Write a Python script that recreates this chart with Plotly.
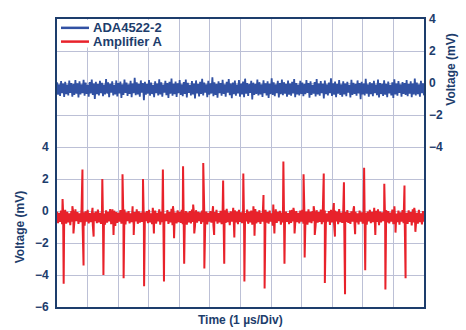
import numpy as np
import plotly.graph_objects as go

# ---- data: voltages in hundredths of a mV, time base 1 µs/div over 12 divisions ----
ada_centi_mv = [
    5, -73, -8, -81, 12, -64, -3, -87, 8, -70, -10, -77, 15, -62, 0, -85, -6, -74, 18, -67,
    -2, -90, 10, -72, -9, -63, 20, -79, 3, -68, -11, -86, 6, -65, 22, -75, -4, -99, 7, -69,
    -7, -78, 14, -64, 1, -83, -10, -72, 25, -66, 4, -89, -5, -61, 10, -77, -12, -71, 16, -84,
    -1, -65, 9, -94, -8, -74, 21, -62, 2, -81, -9, -68, 13, -88, -3, -64, 32, -76, 5, -72,
    -6, -85, 16, -60, 0, -107, 8, -73, -7, -66, 19, -80, 3, -69, -11, -89, 11, -63, -4, -78,
    23, -72, 4, -86, -10, -61, 14, -76, -1, -93, 7, -67, 28, -79, -5, -70, 9, -87, -2, -64,
    18, -75, -8, -82, 6, -68, 22, -91, 1, -62, -12, -78, 12, -71, -3, -97, 16, -65, -7, -84,
    8, -69, 26, -77, 2, -60, -9, -88, 13, -73, -2, -66, 35, -82, 4, -74, -6, -92, 10, -63,
    0, -80, 20, -68, -8, -86, 7, -61, 24, -76, -4, -95, 3, -70, 15, -79, -10, -65, 19, -85,
    -3, -72, 9, -89, 27, -67, -1, -81, -7, -62, 14, -103, 2, -75, -6, -68, 21, -78, 5, -71,
    -9, -87, 17, -64, -2, -77, 11, -93, -5, -69, 29, -74, 4, -82, -8, -63, 13, -90, -1, -70,
    22, -76, 5, -66, -6, -85, 16, -73, -3, -80, 8, -65, 25, -88, 0, -71, -10, -78, 14, -68,
    3, -83, -7, -70, 19, -62, -1, -92, 10, -75, -11, -67, 6, -84, 24, -72, -4, -79, 12, -64,
    -5, -96, 15, -69, -9, -77, 2, -63, 30, -81, -2, -73, 9, -88, -6, -66, 18, -75, -8, -85,
    11, -71, -3, -82, 7, -60, -12, -90, 20, -74, 1, -68, -7, -79, 16, -65, -1, -101, 8, -72,
    -4, -78, 26, -67, -8, -86, 5, -70, -2, -83, 13, -64, -10, -76, 21, -91, 0, -69, -5, -81,
    17, -73, -6, -88, 9, -65, -11, -77, 4, -94, 23, -71, -3, -80, 12, -62, -9, -85, 6, -68,
    -1, -75, 19, -83, -7, -67, 10, -89, -4, -72, 28, -78, 2, -70, -9, -86, 14, -64, -2, -77,
]

amp_a_floor_centi_mv = [
    -4, -76, -12, -68, 3, -82, -9, -65, 8, -79, -6, -71, -15, -88, 0, -67, -11, -77, 10, -63,
    -7, -81, -14, -69, 5, -74, -8, -91, -2, -66, 7, -78, -13, -70, 1, -85, -9, -64, -3, -76,
    9, -72, -11, -80, -1, -67, -16, -86, 4, -73, -5, -65, 12, -82, -10, -69, 2, -94, -7, -75,
    -12, -66, 6, -79, -4, -71, 9, -84, -9, -64, 0, -77, -15, -70, 3, -87, -6, -65, 11, -80,
    -2, -73, -10, -68, 5, -90, -8, -63, -1, -76, 8, -71, -14, -83, -4, -67, 2, -79, -11, -65,
    10, -85, -5, -70, 1, -75, -16, -64, 6, -81, -7, -72, 13, -89, -3, -66, -10, -78, 4, -69,
    -6, -74, 7, -82, -12, -65, 0, -86, -8, -71, -1, -77, 9, -68, -14, -92, 5, -73, -5, -63,
    -9, -80, 3, -69, 11, -76, -4, -84, -11, -67, 0, -73, 6, -87, -7, -65, 8, -79, -13, -71,
    1, -82, -6, -64, 5, -75, 13, -70, -10, -88, -2, -66, -15, -78, 4, -72, -4, -83, 7, -68,
    -8, -76, 0, -90, -12, -65, 9, -80, -3, -71, 2, -85, -9, -63, 12, -77, -5, -69, 5, -81,
    -11, -67, -1, -84, 7, -73, -7, -79, 3, -66, -14, -91, -2, -70, 10, -75, -6, -64, 1, -86,
    -10, -72, 6, -78, -4, -68, -13, -83, 4, -74, 8, -65, -8, -81, -1, -70, -12, -77, 2, -66,
    7, -79, -9, -67, -3, -85, 11, -71, -6, -76, 0, -64, -11, -89, 5, -73, -7, -68, 9, -82,
    -5, -70, 3, -80, -14, -66, -1, -87, 8, -72, -9, -78, 2, -65, -4, -83, 12, -69, -10, -75,
    0, -93, -7, -68, 6, -74, -12, -81, -2, -67, 10, -77, -5, -71, -15, -84, 3, -66, -8, -79,
    4, -73, -11, -85, -3, -65, 8, -76, -6, -70, -13, -82, 1, -68, 11, -88, -4, -72, -9, -64,
    -7, -80, 5, -71, -1, -78, -10, -66, 9, -83, -5, -73, -16, -69, 2, -86, -8, -67, 6, -76,
    -3, -74, -12, -81, 4, -68, -6, -90, 10, -72, -2, -65, -11, -79, 7, -70, -14, -84, 0, -67,
]

# chopping glitches of Amplifier A (µs, mV)
glitch_t_us = [0.20, 0.85, 1.50, 2.16, 2.83, 3.48, 4.14, 4.80, 5.45,
               6.11, 6.77, 7.42, 8.08, 8.74, 9.40, 10.06, 10.72, 11.38]
glitch_pos_mv = [0.75, 2.6, 2.0, 2.3, 2.0, 2.6, 2.8, 3.0, 1.9,
                 2.35, 1.0, 3.1, 2.3, 2.35, 1.8, 2.7, 1.7, 1.6]
glitch_neg_mv = [-4.55, -3.4, -4.0, -4.2, -4.7, -4.4, -3.3, -3.6, -3.3,
                 -4.4, -4.85, -3.3, -2.9, -4.5, -5.2, -3.7, -4.9, -4.2]

# smaller glitches halfway between the large ones
minor_t_us = [0.52, 1.18, 1.83, 2.49, 3.15, 3.81, 4.47, 5.12, 5.78,
              6.44, 7.09, 7.75, 8.41, 9.07, 9.73, 10.39, 11.05, 11.70]
minor_pos_mv = [0.3, 0.2, 0.1, 0.3, 0.2, 0.3, 0.4, 0.3, 0.2,
                0.3, 0.4, 0.2, 0.3, 0.5, 0.3, 0.2, 0.3, 0.2]
minor_neg_mv = [-1.4, -1.6, -1.5, -1.5, -1.4, -1.7, -1.4, -1.5, -1.65,
                -1.55, -1.4, -1.4, -1.5, -1.6, -1.45, -1.5, -1.35, -1.3]

series_names = ["ADA4522-2", "Amplifier A"]
left_ticks = [-6, -4, -2, 0, 2, 4]
right_ticks = [-4, -2, 0, 2, 4]

# ---- build traces ----
T_SPAN = 12.0
ada_mv = np.asarray(ada_centi_mv) / 100.0
floor_mv = np.asarray(amp_a_floor_centi_mv) / 100.0
ada_t = np.linspace(0, T_SPAN, len(ada_mv))
floor_t = np.linspace(0, T_SPAN, len(floor_mv))

HALF = 0.018  # half-width of a glitch edge, µs
amp_t = list(floor_t)
amp_v = list(floor_mv)
for t, p, n in zip(glitch_t_us, glitch_pos_mv, glitch_neg_mv):
    amp_t += [t - HALF, t + HALF]
    amp_v += [p, n]
for t, p, n in zip(minor_t_us, minor_pos_mv, minor_neg_mv):
    amp_t += [t - HALF, t + HALF]
    amp_v += [p, n]
order = np.argsort(amp_t, kind="stable")
amp_t = np.asarray(amp_t)[order]
amp_v = np.asarray(amp_v)[order]

NAVY = "#1d3d6c"
BLUE = "#3151a3"
RED = "#e8222b"
GRID = "#bcc0d6"
FONT = "Liberation Sans, Arial, sans-serif"
colors = [BLUE, RED]

W, H = 466, 330
ML, MR, MT, MB = 57, 42, 14, 23
PW, PH = W - ML - MR, H - MT - MB


def minus(v):
    return f"\u2212{abs(v)}" if v < 0 else f"{v}"


def px_x(px):
    return (px - ML) / PW


def px_y(py):
    return 1 - (py - MT) / PH


fig = go.Figure()
fig.add_trace(go.Scatter(x=ada_t, y=ada_mv, mode="lines", name=series_names[0],
                         line=dict(color=BLUE, width=1.8), yaxis="y2"))
fig.add_trace(go.Scatter(x=amp_t, y=amp_v, mode="lines", name=series_names[1],
                         line=dict(color=RED, width=2), yaxis="y"))

left_all = list(range(-6, 13, 2))
right_all = list(range(-14, 5, 2))
bold = dict(family=FONT, color=NAVY, size=12, weight="bold")

fig.update_layout(
    width=W, height=H,
    margin=dict(l=ML, r=MR, t=MT, b=MB),
    paper_bgcolor="white", plot_bgcolor="white",
    font=dict(family=FONT, color=NAVY, size=12),
    showlegend=False,
    xaxis=dict(range=[0, T_SPAN], tickvals=list(range(0, 13)),
               showticklabels=False, ticks="", showgrid=True,
               gridcolor=GRID, gridwidth=1, zeroline=False,
               showline=True, linecolor=NAVY, linewidth=2, mirror=True),
    yaxis=dict(range=[-6, 12], tickvals=left_all,
               ticktext=[minus(v) if v in left_ticks else "" for v in left_all],
               ticks="", showgrid=True, gridcolor=GRID, gridwidth=1,
               zeroline=False, showline=True, linecolor=NAVY, linewidth=2,
               mirror=True, ticklabelstandoff=4, tickfont=bold),
    yaxis2=dict(range=[-14, 4], tickvals=right_all,
                ticktext=[minus(v) if v in right_ticks else "" for v in right_all],
                overlaying="y", side="right", ticks="", showgrid=False,
                zeroline=False, showline=False, ticklabelstandoff=4,
                tickfont=bold),
)

# legend box in the top-left corner of the plot
fig.add_shape(type="rect", xref="paper", yref="paper", layer="above",
              x0=px_x(58), x1=px_x(163), y0=px_y(43), y1=px_y(15),
              fillcolor="white", line=dict(width=0))
for i, (name, col) in enumerate(zip(series_names, colors)):
    yy = px_y(23 + 14 * i)
    fig.add_shape(type="line", xref="paper", yref="paper", layer="above",
                  x0=px_x(61), x1=px_x(89), y0=yy, y1=yy,
                  line=dict(color=col, width=2.5))
    fig.add_annotation(text=name, xref="paper", yref="paper", x=px_x(91), y=yy,
                       xanchor="left", yanchor="middle", showarrow=False,
                       font=dict(family=FONT, color=NAVY, size=13, weight="bold"))

fig.add_annotation(text="Voltage (mV)", xref="paper", yref="y",
                   x=-0.1, y=-1, textangle=-90, showarrow=False,
                   font=bold, xanchor="center", yanchor="middle")
fig.add_annotation(text="Voltage (mV)", xref="paper", yref="y2",
                   x=1.075, y=0.8, textangle=-90, showarrow=False,
                   font=bold, xanchor="center", yanchor="middle")
fig.add_annotation(text="Time (1 \u00b5s/Div)", xref="x", yref="paper",
                   x=6, y=-0.046, showarrow=False, font=bold,
                   xanchor="center", yanchor="middle")

fig.write_html("out.html")
